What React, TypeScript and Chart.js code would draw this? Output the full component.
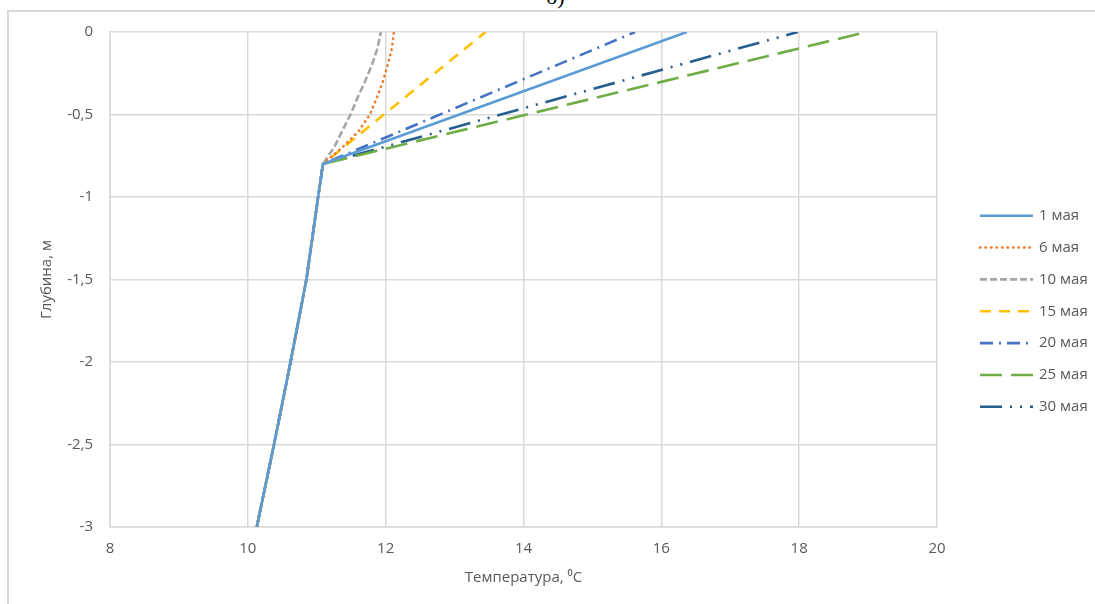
import React, { useEffect, useRef } from "react";
import { Chart, registerables } from "chart.js";

Chart.register(...registerables);

// ---- data ----
const seriesLabels = ["1 мая", "6 мая", "10 мая", "15 мая", "20 мая", "25 мая", "30 мая"];

// common lower part of every profile (depth, m / temperature, °C)
const lowerDepths = [-3, -2.5, -2, -1.5, -1, -0.8];
const lowerTemps = [10.13, 10.38, 10.62, 10.85, 11.02, 11.09];

// curved upper parts
const upperDepths = [-0.7, -0.6, -0.5, -0.4, -0.3, -0.2, -0.1, 0];
const may6Upper = [11.37, 11.61, 11.77, 11.87, 11.96, 12.03, 12.09, 12.12];
const may10Upper = [11.25, 11.37, 11.49, 11.59, 11.7, 11.8, 11.88, 11.93];

// straight upper parts: surface value only
const surfaceDepths = [0];
const may1Surface = [16.37];
const may15Surface = [13.45];
const may20Surface = [15.62];
const may25Surface = [18.98];
const may30Surface = [17.98];

const xTicks = [8, 10, 12, 14, 16, 18, 20];
const yTicks = [0, -0.5, -1, -1.5, -2, -2.5, -3];

const seriesColors = ["#5B9BD5", "#ED7D31", "#A5A5A5", "#FFC000", "#4472C4", "#70AD47", "#255E91"];
const seriesDashes = [
  [],
  [0.5, 5],
  [7, 3],
  [11, 8],
  [13, 6, 2, 6],
  [22, 9],
  [22, 8, 2, 8, 2, 8],
];
const seriesCaps = ["butt", "round", "butt", "butt", "butt", "butt", "butt"];

const upperParts = [
  [surfaceDepths, may1Surface],
  [upperDepths, may6Upper],
  [upperDepths, may10Upper],
  [surfaceDepths, may15Surface],
  [surfaceDepths, may20Surface],
  [surfaceDepths, may25Surface],
  [surfaceDepths, may30Surface],
];

const GRID = "#D9D9D9";
const TEXT = "#595959";
const FONT = "'Open Sans', 'DejaVu Sans', sans-serif";

const legendPlugin = {
  id: "sideLegend",
  afterDraw(chart: any) {
    const ctx = chart.ctx as CanvasRenderingContext2D;
    const top = 215.7;
    const step = 31.85;
    chart.data.datasets.forEach((ds: any, i: number) => {
      const y = top + i * step;
      ctx.save();
      ctx.strokeStyle = ds.borderColor;
      ctx.lineWidth = ds.borderWidth;
      ctx.lineCap = ds.borderCapStyle;
      ctx.setLineDash(ds.borderDash);
      ctx.beginPath();
      ctx.moveTo(980, y);
      ctx.lineTo(1033, y);
      ctx.stroke();
      ctx.setLineDash([]);
      ctx.fillStyle = TEXT;
      ctx.font = `15px ${FONT}`;
      ctx.textBaseline = "middle";
      ctx.textAlign = "left";
      ctx.fillText(ds.label, 1039, y);
      ctx.restore();
    });
  },
};

export default function App() {
  const ref = useRef<HTMLCanvasElement | null>(null);

  useEffect(() => {
    if (!ref.current) return;
    const datasets = seriesLabels.map((label, i) => {
      const [ud, ut] = upperParts[i];
      const pts = lowerDepths.map((d, k) => ({ x: lowerTemps[k], y: d }));
      (ud as number[]).forEach((d, k) => pts.push({ x: (ut as number[])[k], y: d }));
      return {
        label,
        data: pts,
        borderColor: seriesColors[i],
        backgroundColor: seriesColors[i],
        borderWidth: 2.6,
        borderDash: seriesDashes[i],
        borderCapStyle: seriesCaps[i],
        pointRadius: 0,
        tension: 0,
        fill: false,
        showLine: true,
      };
    });

    const chart = new Chart(ref.current, {
      type: "scatter",
      data: { datasets },
      plugins: [legendPlugin],
      options: {
        animation: false,
        responsive: false,
        maintainAspectRatio: false,
        layout: { padding: { left: 0, top: 32, right: 158, bottom: 0 } },
        plugins: { legend: { display: false }, tooltip: { enabled: false } },
        scales: {
          x: {
            type: "linear",
            min: 8,
            max: 20,
            afterBuildTicks: (s: any) => {
              s.ticks = xTicks.map((v) => ({ value: v }));
            },
            afterFit: (s: any) => {
              s.height = 77;
            },
            ticks: { padding: 13, color: TEXT, font: { family: FONT, size: 15 } },
            grid: { color: GRID, lineWidth: 1.5, drawTicks: false },
            border: { color: GRID, width: 1.5 },
            title: {
              display: true,
              text: "Температура, ⁰C",
              color: TEXT,
              font: { family: FONT, size: 15 },
              padding: { top: 0, bottom: 17 },
            },
          },
          y: {
            type: "linear",
            min: -3,
            max: 0,
            afterBuildTicks: (s: any) => {
              s.ticks = yTicks.map((v) => ({ value: v }));
            },
            afterFit: (s: any) => {
              s.width = 110;
            },
            ticks: {
              padding: 17,
              color: TEXT,
              font: { family: FONT, size: 15 },
              callback: (v: any) => String(v).replace(".", ","),
            },
            grid: { color: GRID, lineWidth: 1.5, drawTicks: false },
            border: { color: GRID, width: 1.5 },
            title: {
              display: true,
              text: "Глубина, м",
              color: TEXT,
              font: { family: FONT, size: 15 },
              padding: { top: 38, bottom: 0 },
            },
          },
        },
      },
    } as any);
    return () => chart.destroy();
  }, []);

  return (
    <div
      style={{
        position: "fixed",
        left: 0,
        top: 0,
        width: 1095,
        height: 604,
        overflow: "hidden",
        background: "#fff",
      }}
    >
      <div
        style={{
          position: "absolute",
          left: 546,
          top: -14,
          fontFamily: "'Liberation Serif', 'Times New Roman', serif",
          fontSize: 22,
          lineHeight: "22px",
          color: "#000",
        }}
      >
        б)
      </div>
      <div
        style={{
          position: "absolute",
          left: 7,
          top: 10,
          width: 1200,
          height: 700,
          border: `2px solid ${GRID}`,
          boxSizing: "border-box",
        }}
      />
      <canvas
        ref={ref}
        width={1095}
        height={604}
        style={{ position: "absolute", left: 0, top: 0, width: 1095, height: 604 }}
      />
    </div>
  );
}
